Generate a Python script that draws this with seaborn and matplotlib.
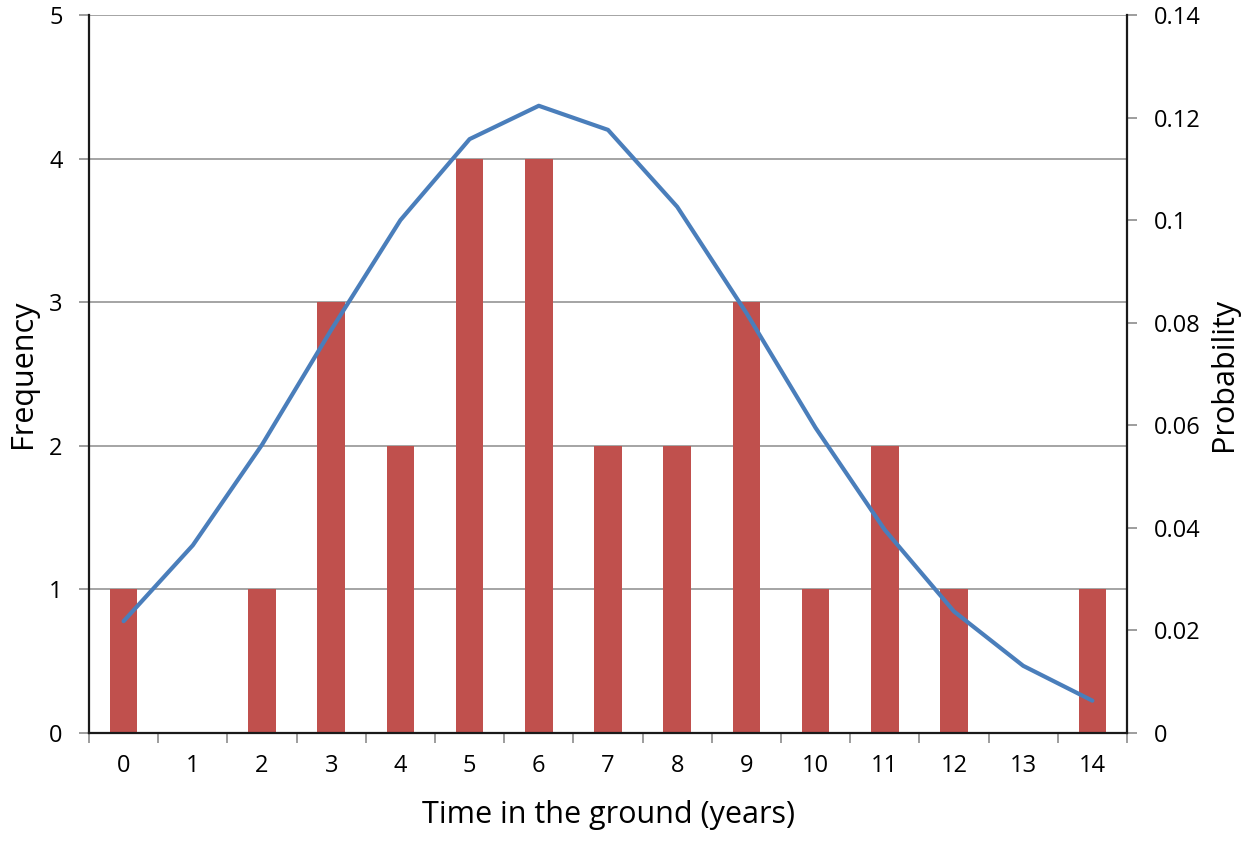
import numpy as np
import pandas as pd
import matplotlib
matplotlib.use("Agg")
import matplotlib.pyplot as plt
import seaborn as sns

# data
years = list(range(15))
frequency = [1, 0, 1, 3, 2, 4, 4, 2, 2, 3, 1, 2, 1, 0, 1]
probability = [0.0218, 0.0366, 0.0562, 0.0786, 0.1000, 0.1158, 0.1223, 0.1176,
               0.1026, 0.0819, 0.0595, 0.0396, 0.0237, 0.0131, 0.0063]

df = pd.DataFrame({"year": years, "freq": frequency, "prob": probability})

sns.set_style("white")
plt.rcParams["font.family"] = ["Open Sans", "DejaVu Sans"]
plt.rcParams["text.color"] = "black"
plt.rcParams["axes.labelcolor"] = "black"
plt.rcParams["xtick.color"] = "black"
plt.rcParams["ytick.color"] = "black"

fig = plt.figure(figsize=(12.58, 8.41), dpi=100)
ax = fig.add_axes([89 / 1258, 1 - 733 / 841, (1127 - 89) / 1258, (733 - 15) / 841])

# bars
sns.barplot(data=df, x="year", y="freq", color="#C0504D", width=0.4,
            saturation=1, linewidth=0, ax=ax, zorder=2)
ax.set_ylim(0, 5)
ax.set_xlim(-0.5, 14.5)
ax.set_yticks(range(6))
ax.yaxis.grid(True, color="#8c8c8c", linewidth=1.1, zorder=0)
ax.set_axisbelow(True)

# x ticks between categories, labels centred
ax.set_xticks(np.arange(-0.5, 15, 1))
ax.set_xticklabels([])
ax.set_xticks(years, minor=True)
ax.set_xticklabels([str(y) for y in years], minor=True, fontsize=17)
ax.tick_params(axis="x", which="major", direction="out", length=7, width=1.2,
               color="#8c8c8c", bottom=True)
ax.tick_params(axis="x", which="minor", length=0, pad=15)
ax.tick_params(axis="y", direction="out", length=7, width=1.2, color="#8c8c8c",
               labelsize=17, left=True, pad=12)

for side in ["left", "bottom"]:
    ax.spines[side].set_color("#1a1a1a")
    ax.spines[side].set_linewidth(1.6)
ax.spines["top"].set_visible(False)
ax.spines["right"].set_visible(False)

ax.set_xlabel("Time in the ground (years)", fontsize=22, labelpad=16)
ax.set_ylabel("Frequency", fontsize=22, labelpad=8)

# probability line on the secondary axis
ax2 = ax.twinx()
sns.lineplot(data=df, x="year", y="prob", color="#4A7EBB", linewidth=3,
             ax=ax2, zorder=3)
ax2.set_ylim(0, 0.14)
ax2.set_yticks(np.arange(0, 0.141, 0.02))
ax2.set_yticklabels(["0", "0.02", "0.04", "0.06", "0.08", "0.1", "0.12", "0.14"])
ax2.tick_params(axis="y", direction="out", length=7, width=1.2, color="#8c8c8c",
                labelsize=17, right=True, pad=12)
ax2.set_ylabel("Probability", fontsize=22, labelpad=6)
ax2.spines["right"].set_color("#1a1a1a")
ax2.spines["right"].set_linewidth(1.6)
for side in ["top", "left", "bottom"]:
    ax2.spines[side].set_visible(False)
ax2.grid(False)

fig.savefig("out.png", dpi=100)
